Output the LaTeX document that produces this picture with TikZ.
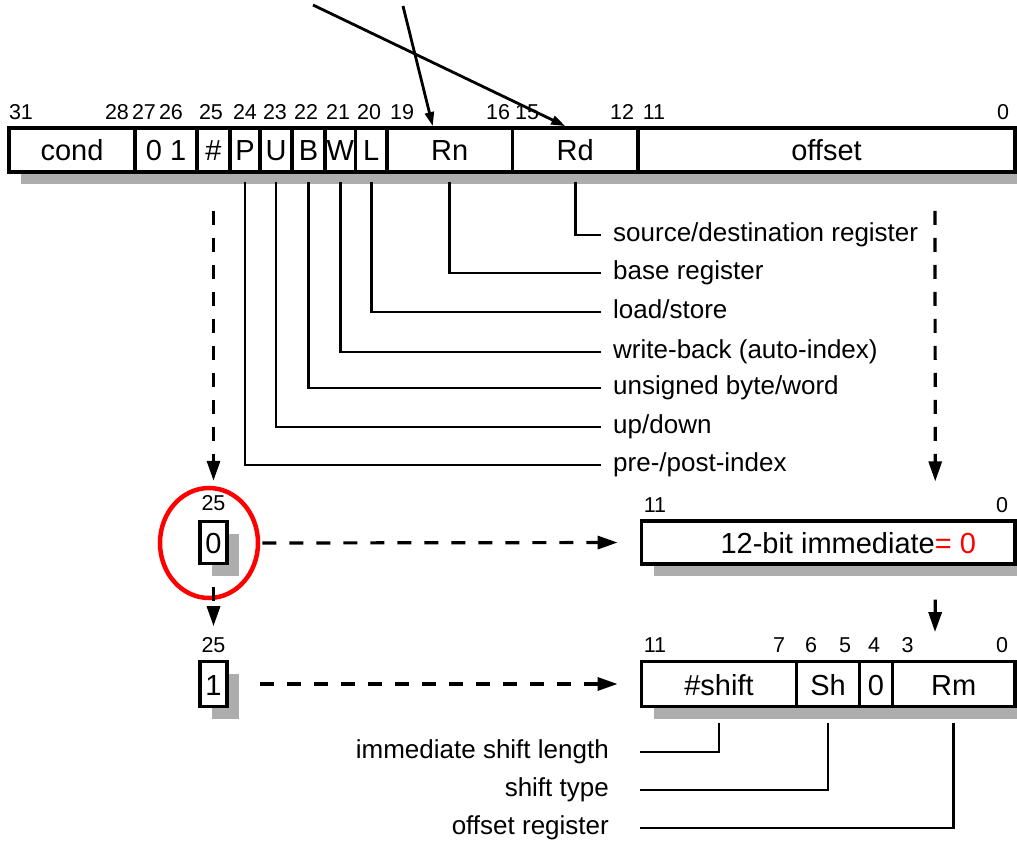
\documentclass[tikz,border=0pt]{standalone}
\usepackage{fontspec}
\setmainfont{Liberation Sans}
\usetikzlibrary{positioning,calc,arrows.meta,shapes.geometric,shadows}
\tikzset{
  field/.style={draw, line width=3.8pt, fill=white, inner sep=0pt, minimum height=44pt, text height=22pt, text depth=0pt, font=\fontsize{29}{32}\selectfont, drop shadow={shadow xshift=12pt, shadow yshift=-12pt, fill=black!32, opacity=1}},
  bitno/.style={inner sep=0pt, font=\fontsize{21.5}{23}\selectfont},
  note/.style={anchor=west, inner xsep=12pt, inner ysep=0pt, text height=18pt, text depth=5pt, font=\fontsize{26}{28}\selectfont},
  note left/.style={note, anchor=east, inner xsep=31pt},
  leader/.style={line width=2.8pt},
  pointer/.style={line width=2.8pt, -{Triangle[length=14pt,width=9pt]}},
  dash arrow/.style={line width=3.2pt, dash pattern=on 14pt off 13pt, -{Triangle[length=20pt,width=13pt]}},
  marker/.style={ellipse, draw=red, line width=4.5pt, minimum width=98pt, minimum height=110pt},
}

\begin{document}
\begin{tikzpicture}[x=1pt,y=-1pt]
\useasboundingbox (0,0) rectangle (1017,842);
%the nodes
\node[field,minimum width=126pt] (cond) at (72,150) {cond};
\node[field,minimum width=62pt] (fixed) at (166,150) {0 1};
\node[field,minimum width=33pt] (hash) at (213.5,150) {\#};
\node[field,minimum width=30pt] (P) at (245,150) {P};
\node[field,minimum width=32pt] (U) at (276,150) {U};
\node[field,minimum width=33pt] (B) at (308.5,150) {B};
\node[field,minimum width=30.5pt] (W) at (340.25,150) {W};
\node[field,minimum width=31.5pt] (L) at (371.25,150) {L};
\node[field,minimum width=125.5pt] (Rn) at (449.75,150) {Rn};
\node[field,minimum width=125.5pt] (Rd) at (575.25,150) {Rd};
\node[field,minimum width=377pt] (offset) at (826.5,150) {offset};
\node[bitno] (b31) at (21,112) {31};
\node[bitno] (b28) at (117,112) {28};
\node[bitno] (b27) at (144,112) {27};
\node[bitno] (b26) at (171,112) {26};
\node[bitno] (b25) at (211,112) {25};
\node[bitno] (b24) at (245,112) {24};
\node[bitno] (b23) at (275,112) {23};
\node[bitno] (b22) at (306,112) {22};
\node[bitno] (b21) at (338,112) {21};
\node[bitno] (b20) at (369,112) {20};
\node[bitno] (b19) at (402,112) {19};
\node[bitno] (b16) at (498,112) {16};
\node[bitno] (b15) at (527,112) {15};
\node[bitno] (b12) at (622,112) {12};
\node[bitno] (b11) at (654,112) {11};
\node[bitno] (b0) at (1003,112) {0};
\node[note] (lblRd) at (601,235) {source/destination register};
\node[note] (lblRn) at (601,273) {base register};
\node[note] (lblL) at (601,312) {load/store};
\node[note] (lblW) at (601,352) {write-back (auto-index)};
\node[note] (lblB) at (601,388) {unsigned byte/word};
\node[note] (lblU) at (601,427) {up/down};
\node[note] (lblP) at (601,465) {pre-/post-index};
\node[bitno] (i25a) at (213.5,503) {25};
\node[field,minimum width=27pt,minimum height=42pt] (zero) at (213.5,542.5) {0};
\node[marker] (mark0) at (209,543) {};
\node[bitno] (i11) at (655,505) {11};
\node[bitno] (i0) at (1002,505) {0};
\node[field,minimum width=373.5pt,minimum height=42.5pt] (immbox) at (828.25,542.5) {\hspace*{40pt}12-bit immediate\textcolor{red}{= 0}};
\node[bitno] (i25b) at (213.5,645) {25};
\node[field,minimum width=27pt,minimum height=45pt] (one) at (213.5,684) {1};
\node[bitno] (r11) at (655,645) {11};
\node[bitno] (r7) at (779,645) {7};
\node[bitno] (r6) at (811,645) {6};
\node[bitno] (r5) at (845,645) {5};
\node[bitno] (r4) at (874,645) {4};
\node[bitno] (r3) at (907.5,645) {3};
\node[bitno] (r0) at (1002,645) {0};
\node[field,minimum width=155pt,minimum height=45pt] (shamt) at (719,684) {\#shift};
\node[field,minimum width=63pt,minimum height=45pt] (sh) at (828,684) {Sh};
\node[field,minimum width=33pt,minimum height=45pt] (bit4) at (876,684) {0};
\node[field,minimum width=122.5pt,minimum height=45pt] (Rm) at (953.75,684) {Rm};
\node[note left] (lblLen) at (640,752) {immediate shift length};
\node[note left] (lblType) at (640,790) {shift type};
\node[note left] (lblRm) at (640,828) {offset register};
\coordinate (inRd) at (313,5);
\coordinate (inRn) at (403,6);
%drawings of vectors
\draw[pointer] (inRd) -- ([xshift=-10pt]Rd.north);
\draw[pointer] (inRn) -- ([xshift=-17pt]Rn.north);
\draw[leader] ([yshift=-8pt]Rd.south) |- (lblRd.west);
\draw[leader] ([yshift=-8pt]Rn.south) |- (lblRn.west);
\draw[leader] ([yshift=-8pt]L.south) |- (lblL.west);
\draw[leader] ([yshift=-8pt]W.south) |- (lblW.west);
\draw[leader] ([yshift=-8pt]B.south) |- (lblB.west);
\draw[leader] ([yshift=-8pt]U.south) |- (lblU.west);
\draw[leader] ([yshift=-8pt]P.south) |- (lblP.west);
\draw[dash arrow] ([yshift=-37pt]hash.south) -- ($(hash.south |- mark0.north)+(0,-5)$);
\draw[dash arrow] ([xshift=108.5pt,yshift=-37pt]offset.south) -- ([xshift=107pt,yshift=38pt]immbox.north);
\draw[dash arrow, shorten <=2pt, shorten >=22pt] (mark0.east) -- (immbox.west);
\draw[dash arrow] ([yshift=-22pt]zero.south) -- ([yshift=11pt]i25b.north);
\draw[dash arrow] ([xshift=107pt,yshift=-34pt]immbox.south) -- ([xshift=-18.75pt,yshift=27.5pt]Rm.north);
\draw[dash arrow, shorten <=31pt, shorten >=22pt] (one.east) -- (shamt.west);
\draw[leader] ([yshift=-15pt]shamt.south) |- (lblLen.east);
\draw[leader] ([yshift=-15pt]sh.south) |- (lblType.east);
\draw[leader] ([yshift=-15pt]Rm.south) |- (lblRm.east);
\end{tikzpicture}
\end{document}
